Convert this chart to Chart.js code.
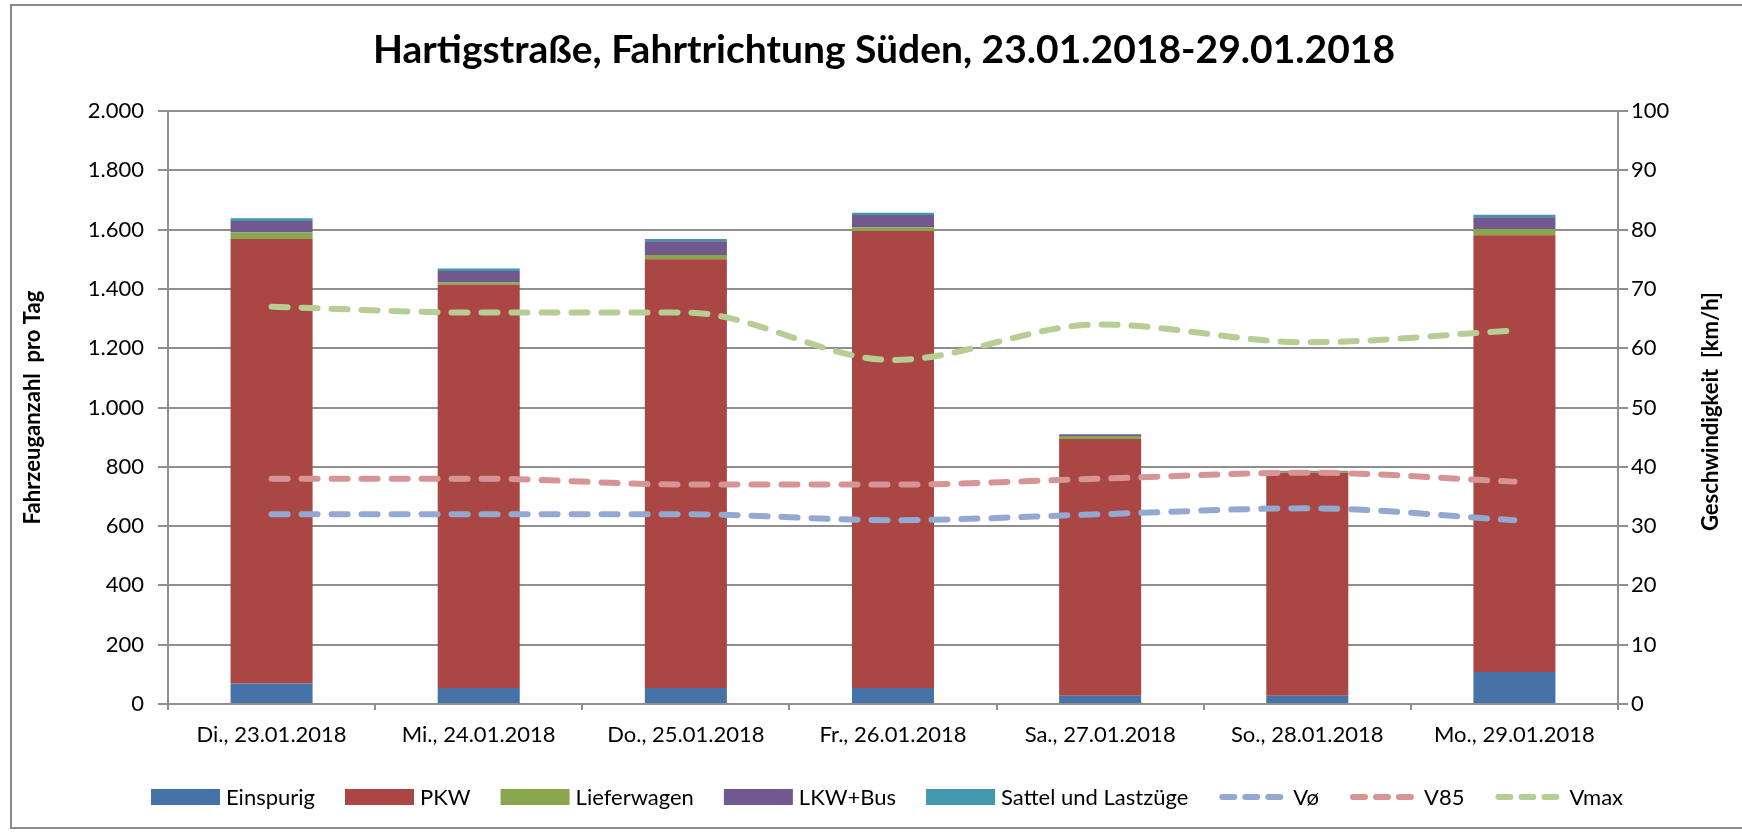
<!DOCTYPE html>
<html>
<head>
<meta charset="utf-8">
<script src="https://cdn.jsdelivr.net/npm/chart.js@4.4.1/dist/chart.umd.min.js"></script>
<style>
  html, body { margin: 0; padding: 0; background: #ffffff; }
  #wrap { width: 1742px; height: 832px; position: relative; }
</style>
</head>
<body>
<div id="wrap"><canvas id="c" width="1742" height="832"></canvas></div>
<script>
// ---- data ----
const categories = ['Di., 23.01.2018', 'Mi., 24.01.2018', 'Do., 25.01.2018', 'Fr., 26.01.2018', 'Sa., 27.01.2018', 'So., 28.01.2018', 'Mo., 29.01.2018'];
const einspurig = [69, 54, 54, 54, 28, 28, 108];
const pkw = [1499, 1360, 1446, 1541, 866, 752, 1473];
const lieferwagen = [23, 8, 14, 13, 10, 3, 21];
const lkwBus = [38, 38, 47, 41, 5, 3, 40];
const sattel = [9, 9, 7, 8, 2, 1, 8];
const vAvg = [32, 32, 32, 31, 32, 33, 31];
const v85 = [38, 38, 37, 37, 38, 39, 37.5];
const vMax = [67, 66, 66, 58, 64, 61, 63];
const leftTicks = [0, 200, 400, 600, 800, 1000, 1200, 1400, 1600, 1800, 2000];
const rightTicks = [0, 10, 20, 30, 40, 50, 60, 70, 80, 90, 100];

const titleText = 'Hartigstraße, Fahrtrichtung Süden, 23.01.2018-29.01.2018';
const leftTitle = 'Fahrzeuganzahl  pro Tag';
const rightTitle = 'Geschwindigkeit  [km/h]';

const FONT = 'Lato, "Open Sans", sans-serif';
const C = {
  einspurig: '#4572A7', pkw: '#AA4643', liefer: '#89A54E', lkw: '#71588F', sattel: '#4198AF',
  vavg: '#93A9D1', v85: '#D69594', vmax: '#B6CD93', grid: '#8f8f8f'
};

function fmtDE(v) {
  return String(v).replace(/\B(?=(\d{3})+(?!\d))/g, '.');
}

const lineDash = [16, 14];

const decorPlugin = {
  id: 'decor',
  beforeDraw(chart) {
    const ctx = chart.ctx;
    ctx.save();
    ctx.fillStyle = '#ffffff';
    ctx.fillRect(0, 0, chart.width, chart.height);
    ctx.strokeStyle = '#8a8a8a';
    ctx.lineWidth = 2;
    ctx.strokeRect(11, 5, chart.width + 20, chart.height - 9);
    ctx.restore();
  },
  afterDraw(chart) {
    const ctx = chart.ctx;
    const area = chart.chartArea;
    ctx.save();
    // title
    ctx.fillStyle = '#000';
    ctx.font = 'bold 39px ' + FONT;
    ctx.textAlign = 'center';
    ctx.textBaseline = 'middle';
    ctx.fillText(titleText, 884, 50);
    // axis titles
    ctx.font = 'bold 22px ' + FONT;
    const midY = (area.top + area.bottom) / 2;
    ctx.save();
    ctx.translate(33, midY);
    ctx.rotate(-Math.PI / 2);
    ctx.fillText(leftTitle, 0, 0);
    ctx.restore();
    ctx.save();
    ctx.translate(1711, midY + 4);
    ctx.rotate(-Math.PI / 2);
    ctx.fillText(rightTitle, 0, 0);
    ctx.restore();

    // legend
    const items = chart.data.datasets.map(ds => ({ text: ds.label, type: ds.type || 'bar', color: ds.type === 'line' ? ds.borderColor : ds.backgroundColor }));
    ctx.font = '22px ' + FONT;
    ctx.textAlign = 'left';
    const boxW = 69, boxH = 16, gapText = 6, gapItem = 30;
    let total = 0;
    items.forEach((it, i) => {
      total += boxW + gapText + ctx.measureText(it.text).width + (i < items.length - 1 ? gapItem : 0);
    });
    let x = 887 - total / 2;
    const y = 797;
    items.forEach(it => {
      if (it.type === 'line') {
        ctx.save();
        ctx.strokeStyle = it.color;
        ctx.lineWidth = 6;
        ctx.lineCap = 'round';
        ctx.setLineDash([12, 11]);
        ctx.beginPath();
        ctx.moveTo(x + 4, y);
        ctx.lineTo(x + boxW - 4, y);
        ctx.stroke();
        ctx.restore();
      } else {
        ctx.fillStyle = it.color;
        ctx.fillRect(x, y - boxH / 2, boxW, boxH);
      }
      x += boxW + gapText;
      ctx.fillStyle = '#000';
      ctx.fillText(it.text, x, y + 1);
      x += ctx.measureText(it.text).width + gapItem;
    });
    ctx.restore();
  }
};

const barCommon = { type: 'bar', yAxisID: 'y', stack: 's', order: 2, barPercentage: 0.396, categoryPercentage: 1.0, borderWidth: 0 };
const lineCommon = { type: 'line', yAxisID: 'y1', order: 0, borderWidth: 6, borderDash: lineDash, borderCapStyle: 'round', pointRadius: 0, tension: 0.4, cubicInterpolationMode: 'monotone', fill: false };

new Chart(document.getElementById('c'), {
  data: {
    labels: categories,
    datasets: [
      Object.assign({ label: 'Einspurig', data: einspurig, backgroundColor: C.einspurig }, barCommon),
      Object.assign({ label: 'PKW', data: pkw, backgroundColor: C.pkw }, barCommon),
      Object.assign({ label: 'Lieferwagen', data: lieferwagen, backgroundColor: C.liefer }, barCommon),
      Object.assign({ label: 'LKW+Bus', data: lkwBus, backgroundColor: C.lkw }, barCommon),
      Object.assign({ label: 'Sattel und Lastzüge', data: sattel, backgroundColor: C.sattel }, barCommon),
      Object.assign({ label: 'Vø', data: vAvg, borderColor: C.vavg }, lineCommon),
      Object.assign({ label: 'V85', data: v85, borderColor: C.v85 }, lineCommon),
      Object.assign({ label: 'Vmax', data: vMax, borderColor: C.vmax }, lineCommon)
    ]
  },
  options: {
    responsive: false,
    animation: false,
    layout: { padding: { top: 111, bottom: 68, left: 0, right: 0 } },
    plugins: { legend: { display: false }, title: { display: false }, tooltip: { enabled: false } },
    scales: {
      x: {
        stacked: true,
        offset: true,
        afterFit(s) { s.height = 60; },
        grid: { offset: true, drawOnChartArea: false, drawTicks: true, tickLength: 6, color: C.grid, lineWidth: 2 },
        border: { display: true, color: C.grid, width: 2 },
        ticks: { color: '#000', font: { family: FONT, size: 22 }, padding: 12, maxRotation: 0, autoSkip: false }
      },
      y: {
        position: 'left',
        stacked: true,
        min: 0, max: 2000,
        afterFit(s) { s.width = 168; },
        afterBuildTicks(s) { s.ticks = leftTicks.map(v => ({ value: v })); },
        grid: { color: C.grid, lineWidth: 2, tickLength: 10, drawTicks: true },
        border: { display: true, color: C.grid, width: 2 },
        ticks: { color: '#000', font: { family: FONT, size: 22 }, padding: 14, callback: v => fmtDE(v) }
      },
      y1: {
        position: 'right',
        min: 0, max: 100,
        afterFit(s) { s.width = 124; },
        afterBuildTicks(s) { s.ticks = rightTicks.map(v => ({ value: v })); },
        grid: { drawOnChartArea: false, color: C.grid, lineWidth: 2, tickLength: 10, drawTicks: true },
        border: { display: true, color: C.grid, width: 2 },
        ticks: { color: '#000', font: { family: FONT, size: 22 }, padding: 3, callback: v => String(v) }
      }
    }
  },
  plugins: [decorPlugin]
});
</script>
</body>
</html>
